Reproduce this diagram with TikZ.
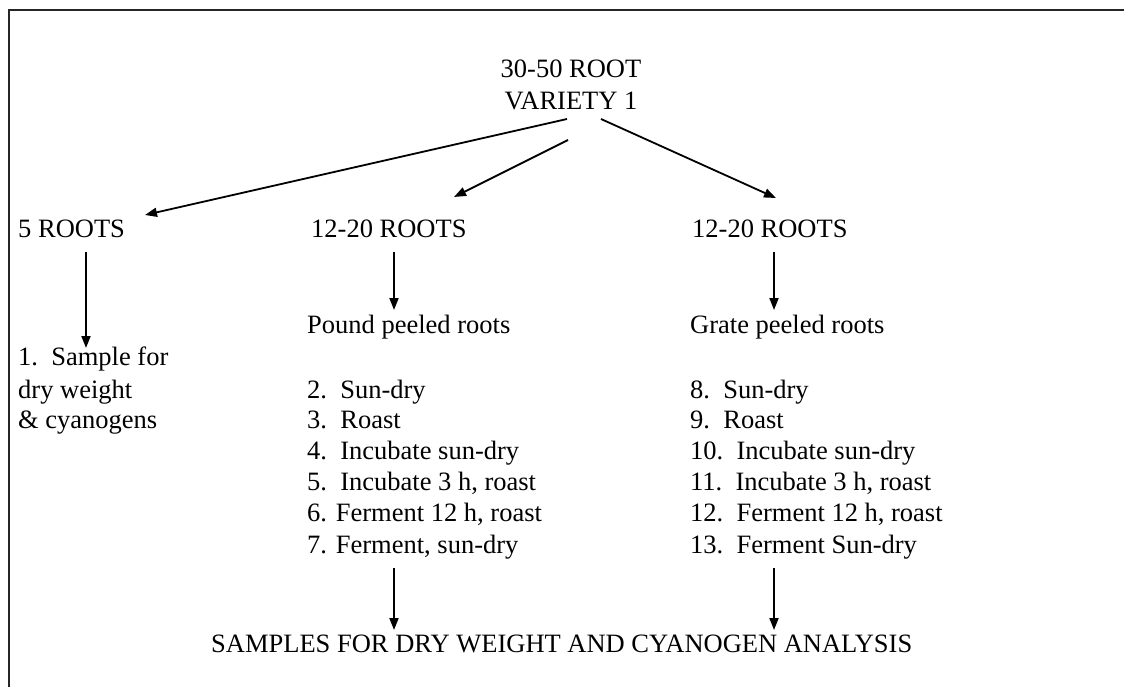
\documentclass[tikz,border=0pt]{standalone}
\usepackage{fontspec}
\setmainfont{Liberation Serif}
\usetikzlibrary{arrows.meta}

\tikzset{
  lbl/.style={inner sep=0pt, anchor=base west, font=\fontsize{26.5}{31}\selectfont},
  arr/.style={-{Triangle[length=12pt,width=9pt]}, line width=1.8pt},
}

\begin{document}
\begin{tikzpicture}[x=1pt,y=-1pt]
  \useasboundingbox (0,0) rectangle (1124,687);
  % frame (top and left only)
  \draw[line width=2pt, black!85] (9,687) -- (9,10) -- (1124,10);

  % top
  \node[lbl, anchor=base] (root) at (571,78) {30-50 ROOT};
  \node[lbl, anchor=base] (variety) at (571,110) {VARIETY 1};

  % three branches
  \node[lbl] (fiveroots) at (18,237) {5 ROOTS};
  \node[lbl] (poundroots) at (311,237) {12-20 ROOTS};
  \node[lbl] (grateroots) at (692,237) {12-20 ROOTS};

  \coordinate (a1) at (567,119);
  \coordinate (a2) at (568,140);
  \coordinate (a3) at (601,119);
  \coordinate (t1) at (145,215);
  \coordinate (t2) at (454,197);
  \coordinate (t3) at (776,198);
  \draw[arr] (a1) -- (t1);
  \draw[arr] (a2) -- (t2);
  \draw[arr] (a3) -- (t3);

  % left column
  \node[lbl] (sample) at (18,365) {1.\ \ Sample for};
  \node[lbl] (sampleb) at (18,398) {dry weight};
  \node[lbl] (samplec) at (18,428) {\& cyanogens};

  % middle column
  \node[lbl] (pound) at (307,333) {Pound peeled roots};
  \node[lbl] (m2) at (307,398) {2.\ \ Sun-dry};
  \node[lbl] (m3) at (307,428) {3.\ \ Roast};
  \node[lbl] (m4) at (307,459) {4.\ \ Incubate sun-dry};
  \node[lbl] (m5) at (307,490) {5.\ \ Incubate 3 h, roast};
  \node[lbl] (m6) at (307,521) {6. Ferment 12 h, roast};
  \node[lbl] (m7) at (307,553) {7. Ferment, sun-dry};

  % right column
  \node[lbl] (grate) at (690,333) {Grate peeled roots};
  \node[lbl] (r8) at (690,398) {8.\ \ Sun-dry};
  \node[lbl] (r9) at (690,428) {9.\ \ Roast};
  \node[lbl] (r10) at (690,459) {10.\ \ Incubate sun-dry};
  \node[lbl] (r11) at (690,490) {11.\ \ Incubate 3 h, roast};
  \node[lbl] (r12) at (690,521) {12.\ \ Ferment 12 h, roast};
  \node[lbl] (r13) at (690,553) {13.\ \ Ferment Sun-dry};

  % bottom
  \node[lbl] (samples) at (211,652) {SAMPLES FOR DRY WEIGHT AND CYANOGEN ANALYSIS};

  % down arrows
  \coordinate (d1) at (86,252);  \coordinate (e1) at (86,348);
  \coordinate (d2) at (394,252); \coordinate (e2) at (394,310);
  \coordinate (d3) at (774,252); \coordinate (e3) at (774,310);
  \coordinate (d4) at (394,568); \coordinate (e4) at (394,630);
  \coordinate (d5) at (774,568); \coordinate (e5) at (774,630);
  \draw[arr] (d1) -- (e1);
  \draw[arr] (d2) -- (e2);
  \draw[arr] (d3) -- (e3);
  \draw[arr] (d4) -- (e4);
  \draw[arr] (d5) -- (e5);
\end{tikzpicture}
\end{document}
